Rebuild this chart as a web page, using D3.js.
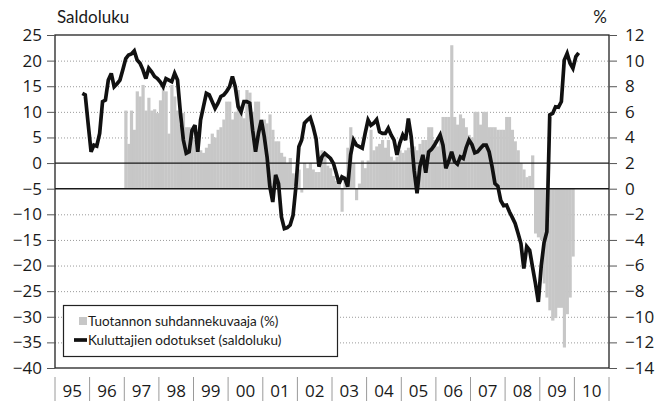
<!DOCTYPE html>
<html>
<head>
<meta charset="utf-8">
<script src="https://cdn.jsdelivr.net/npm/d3@7"></script>
<style>
    body { margin: 0; background: #fff; }
    svg text { font-family: Lato, "Open Sans", sans-serif; fill: #1a1a1a; }
    svg .num { font-family: "Open Sans", "Noto Sans", sans-serif; }
</style>
</head>
<body>
<svg id="chart"></svg>
<script>
// Tuotannon suhdannekuvaaja (%), kuukausittain 1997-01 ... 2009-12 (oikea asteikko)
const barStart = "1997-01";
const barValues = [
    6.1, 3.5, 6.1, 4.6, 7.6, 7.2, 8.1, 6.1, 7.1, 6.1, 6.2, 5.9,          // 1997
    6.9, 7.8, 7.6, 4.3, 8.1, 7.2, 6.1, 5.0, 5.9, 4.8, 4.8, 4.0,          // 1998
    3.8, 3.6, 3.0, 2.8, 3.2, 3.5, 4.3, 4.0, 4.6, 4.8, 5.4, 6.8,          // 1999
    6.8, 5.4, 6.0, 7.7, 6.5, 5.5, 7.7, 7.5, 6.0, 6.8, 6.8, 5.4,          // 2000
    5.4, 5.1, 5.8, 4.6, 3.7, 3.7, 2.8, 2.5, 2.0, 2.4, 1.2, 0.8,          // 2001
    1.5, -0.3, 2.0, 1.6, 2.0, 1.5, 1.3, 1.3, 3.0, 2.8, 1.8, 1.6,         // 2002
    1.0, 0.6, 0.8, -1.8, 1.0, 3.2, 4.8, 2.0, -0.9, 0.4, 2.2, 1.6,        // 2003
    2.2, 4.6, 3.0, 3.3, 3.5, 3.8, 3.2, 3.8, 2.5, 2.2, 2.5, 3.0,          // 2004
    2.8, 3.0, 3.2, 3.0, 3.3, 3.0, 3.5, 3.8, 3.8, 4.8, 4.8, 3.8,          // 2005
    3.3, 4.0, 5.6, 5.6, 5.6, 11.2, 5.6, 5.0, 5.8, 5.5, 4.8, 4.2,         // 2006
    4.0, 6.0, 6.0, 5.0, 6.0, 6.0, 4.8, 4.8, 4.8, 4.6, 4.6, 4.6,          // 2007
    5.6, 5.6, 4.6, 3.7, 3.0, 2.0, 1.5, 0.9, 1.0, 2.6, -3.5, -3.8,        // 2008
    -4.0, -7.4, -8.5, -9.5, -10.3, -10.1, -9.3, -9.3, -12.4, -9.8, -8.5, -5.3 // 2009
];

// Kuluttajien odotukset (saldoluku), kuukausittain 1995-10 ... 2010-02 (vasen asteikko)
const lineStart = "1995-10";
const lineValues = [
    13.6, 13.3, 7.7,                                                      // 1995
    2.2, 3.5, 3.3, 5.8, 12, 12.3, 16.2, 17.5, 14.9, 15.5, 16.2, 18.2,     // 1996
    20.4, 21.1, 21.3, 21.9, 20.1, 19.5, 18.2, 16.5, 18.5, 17.8, 16.9, 16.5, // 1997
    15.8, 14.9, 16.5, 16.2, 15.9, 17.5, 16.2, 9.7, 4.5, 1.9, 2.2, 6.4,    // 1998
    7.4, 2.2, 8.4, 11, 13.6, 13.3, 12, 10.7, 11.7, 13, 13.3, 14,          // 1999
    14.9, 16.9, 14.9, 11, 10, 12, 12, 11.7, 6.4, 2.2, 5.8, 8.4,           // 2000
    5.2, 1.2, -4.6, -7.6, -2.3, -4, -10.5, -12.8, -12.6, -12.1, -10.2, -4.6, // 2001
    3.2, 4.5, 7.8, 8.4, 8.9, 7.1, 4.8, -0.7, 1.2, 1.9, 1.4, 0.9,          // 2002
    -0.1, -2, -4, -2.7, -3, -4.6, 1.6, 4.5, 3.5, 3.2, 2.9, 5.8,           // 2003
    8.4, 7.4, 7.8, 8.5, 6.1, 5.8, 5.8, 6.8, 5.5, 4.5, 1.6, 3.9,           // 2004
    5.5, 4.5, 8.7, 5.1, -1.4, -5.9, -0.7, 1.6, -1.9, 2.2, 2.7, 3.5,       // 2005
    4.5, 5.5, 3.5, -1.0, 0.4, 2.2, 0.3, -0.2, 1.2, 0.9, 3.0, 4.5,         // 2006
    3.6, 2.0, 2.2, 2.9, 3.5, 3.5, 2.2, -0.7, -4, -4.5, -7.3, -8.3,        // 2007
    -8.2, -9.5, -10.6, -11.8, -13.7, -15.7, -20.6, -16.3, -17, -20.3, -23.5, -27.1, // 2008
    -20, -15.5, -13.4, 9.4, 9.7, 11, 10.9, 12, 20.1, 21.4, 19.5, 18.5,    // 2009
    20.8, 21.5                                                            // 2010
];

const leftTicks = [25, 20, 15, 10, 5, 0, -5, -10, -15, -20, -25, -30, -35, -40];
const rightTicks = [12, 10, 8, 6, 4, 2, 0, -2, -4, -6, -8, -10, -12, -14];
const solidLines = [0, -5]; // vasen asteikko
const yearLabels = ["95", "96", "97", "98", "99", "00", "01", "02", "03", "04", "05", "06", "07", "08", "09", "10"];
const firstYear = 1995;

const legendLabels = ["Tuotannon suhdannekuvaaja (%)", "Kuluttajien odotukset (saldoluku)"];

const chartSettings = {
    width: 662,
    height: 408,
    plotLeft: 55,
    plotRight: 609,
    plotTop: 35,
    plotBottom: 368,
    tickSize: 8,
    barColor: "#c7c7c7",
    lineWidth: 3.7,
};

const { width, height, plotLeft, plotRight, plotTop, plotBottom, tickSize } = chartSettings;

const svg = d3.select("#chart")
    .attr("width", width)
    .attr("height", height);

const parseMonth = d3.utcParse("%Y-%m");

const xScale = d3.scaleUtc()
    .domain([new Date(Date.UTC(firstYear, 0, 1)), new Date(Date.UTC(firstYear + yearLabels.length, 0, 1))])
    .range([plotLeft, plotRight]);

const yLeft = d3.scaleLinear().domain([-40, 25]).range([plotBottom, plotTop]);
const yRight = d3.scaleLinear().domain([-14, 12]).range([plotBottom, plotTop]);

const barData = barValues.map((value, i) => {
    const date = d3.utcMonth.offset(parseMonth(barStart), i);
    return { date, next: d3.utcMonth.offset(date, 1), value };
});

const lineData = lineValues.map((value, i) => {
    const date = d3.utcMonth.offset(parseMonth(lineStart), i);
    return { date, next: d3.utcMonth.offset(date, 1), value };
});

// dotted grid
svg.append("g")
    .attr("class", "grid")
    .selectAll("line")
    .data(leftTicks.filter(t => t !== 25 && t !== -40 && !solidLines.includes(t)))
    .join("line")
    .attr("x1", plotLeft)
    .attr("x2", plotRight)
    .attr("y1", d => yLeft(d) + 0.5)
    .attr("y2", d => yLeft(d) + 0.5)
    .attr("stroke", "#9a9a9a")
    .attr("stroke-width", 1)
    .attr("stroke-dasharray", "1,2");

// bars
svg.append("g")
    .attr("class", "bars")
    .selectAll("rect")
    .data(barData)
    .join("rect")
    .attr("x", d => xScale(d.date))
    .attr("width", d => xScale(d.next) - xScale(d.date) + 0.3)
    .attr("y", d => Math.min(yRight(d.value), yRight(0)))
    .attr("height", d => Math.abs(yRight(d.value) - yRight(0)))
    .attr("fill", chartSettings.barColor);

// solid reference lines (0 and -5)
svg.append("g")
    .selectAll("line")
    .data(solidLines)
    .join("line")
    .attr("x1", plotLeft)
    .attr("x2", plotRight)
    .attr("y1", d => yLeft(d))
    .attr("y2", d => yLeft(d))
    .attr("stroke", "#1a1a1a")
    .attr("stroke-width", 1.4);

// line
const line = d3.line()
    .x(d => (xScale(d.date) + xScale(d.next)) / 2)
    .y(d => yLeft(d.value));

svg.append("path")
    .datum(lineData)
    .attr("fill", "none")
    .attr("stroke", "#111")
    .attr("stroke-width", chartSettings.lineWidth)
    .attr("stroke-linejoin", "miter")
    .attr("stroke-miterlimit", 3)
    .attr("d", line);

// frame
svg.append("rect")
    .attr("x", plotLeft)
    .attr("y", plotTop)
    .attr("width", plotRight - plotLeft)
    .attr("height", plotBottom - plotTop)
    .attr("fill", "none")
    .attr("stroke", "#222")
    .attr("stroke-width", 1.3);

// axes
const leftAxis = svg.append("g")
    .attr("transform", `translate(${plotLeft},0)`)
    .call(d3.axisLeft(yLeft).tickValues(leftTicks).tickSize(tickSize).tickPadding(5));

const rightAxis = svg.append("g")
    .attr("transform", `translate(${plotRight},0)`)
    .call(d3.axisRight(yRight).tickValues(rightTicks).tickSize(tickSize).tickPadding(8));

[leftAxis, rightAxis].forEach(axis => {
    axis.select(".domain").remove();
    axis.selectAll(".tick line").attr("stroke", "#555");
    axis.selectAll(".tick text")
        .attr("class", "num")
        .attr("font-size", 17)
        .attr("fill", "#1a1a1a");
});

// axis titles
svg.append("text")
    .attr("x", plotLeft + 2)
    .attr("y", 23)
    .attr("font-size", 17)
    .text("Saldoluku");

svg.append("text")
    .attr("x", plotRight - 2)
    .attr("y", 23)
    .attr("text-anchor", "end")
    .attr("font-size", 17)
    .text("%");

// years with separators
const years = d3.range(firstYear, firstYear + yearLabels.length + 1);
svg.append("g")
    .selectAll("line")
    .data(years)
    .join("line")
    .attr("x1", d => xScale(new Date(Date.UTC(d, 0, 1))))
    .attr("x2", d => xScale(new Date(Date.UTC(d, 0, 1))))
    .attr("y1", 377)
    .attr("y2", 401)
    .attr("stroke", "#9a9a9a")
    .attr("stroke-width", 1);

svg.append("g")
    .selectAll("text")
    .data(yearLabels)
    .join("text")
    .attr("class", "num")
    .attr("x", (d, i) => xScale(new Date(Date.UTC(firstYear + i, 6, 2))))
    .attr("y", 397)
    .attr("text-anchor", "middle")
    .attr("font-size", 17)
    .text(d => d);

// legend
const legend = svg.append("g").attr("class", "legend");
legend.append("rect")
    .attr("x", 63.5)
    .attr("y", 305.5)
    .attr("width", 274)
    .attr("height", 51)
    .attr("fill", "#fff")
    .attr("stroke", "#222")
    .attr("stroke-width", 1.2);

legend.append("rect")
    .attr("x", 79)
    .attr("y", 317)
    .attr("width", 8)
    .attr("height", 8)
    .attr("fill", chartSettings.barColor);

legend.append("line")
    .attr("x1", 74)
    .attr("x2", 87)
    .attr("y1", 340)
    .attr("y2", 340)
    .attr("stroke", "#111")
    .attr("stroke-width", chartSettings.lineWidth);

legend.selectAll("text")
    .data(legendLabels)
    .join("text")
    .attr("x", 88)
    .attr("y", (d, i) => 326 + i * 19)
    .attr("font-size", 13.5)
    .text(d => d);
</script>
</body>
</html>
